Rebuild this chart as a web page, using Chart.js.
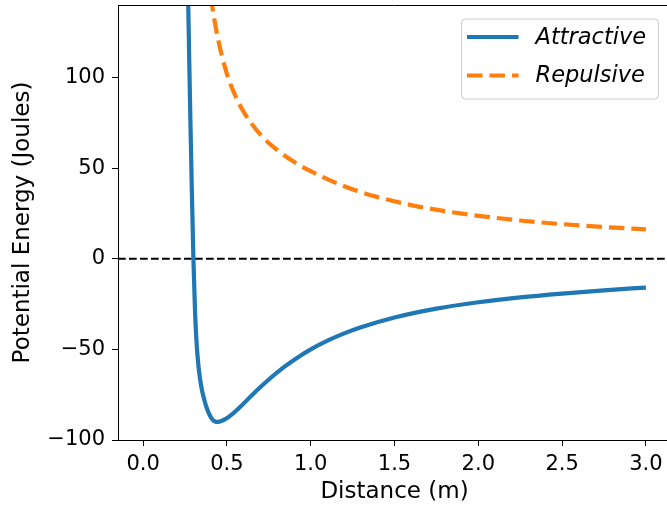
<!DOCTYPE html>
<html>
<head>
<meta charset="utf-8">
<script src="https://cdn.jsdelivr.net/npm/chart.js@4"></script>
<style>
    html, body { margin: 0; padding: 0; background: #fff; overflow: hidden; }
    #wrap { width: 672px; height: 507px; }
</style>
</head>
<body>
<div id="wrap"><canvas id="energyChart" width="672" height="507"></canvas></div>
<script>
// values
const attrDistance = [0.265, 0.27, 0.275, 0.28, 0.29, 0.30, 0.31, 0.32, 0.33, 0.34, 0.35, 0.36, 0.38, 0.40, 0.415, 0.43, 0.44,
    0.455, 0.47, 0.49, 0.51, 0.53, 0.55, 0.58, 0.62, 0.66, 0.70, 0.76, 0.84, 0.92, 1.00, 1.10, 1.20, 1.30, 1.50,
    1.75, 2.00, 2.25, 2.50, 2.75, 3.00];
const attractive = [165, 136, 110, 86, 40, 0, -30, -48, -59, -66.5, -72, -76, -82.5, -86.8, -88.9, -89.8, -90,
    -89.85, -89.4, -88.5, -87.3, -85.9, -84.3, -81.7, -78, -74.3, -70.8, -65.8, -59.8, -54.6, -50, -45.2, -41.2, -37.8, -32.4,
    -27.5, -24, -21.3, -19.2, -17.4, -15.9];

const repDistance = [0.405, 0.41, 0.45, 0.50, 0.55, 0.60, 0.70, 0.80, 0.90, 1.00, 1.20, 1.40, 1.60, 1.80,
    2.00, 2.25, 2.50, 2.75, 3.00];
const repulsive = [145, 141, 120, 102, 90, 81, 68.5, 60, 53.5, 48.3, 40, 34, 29.6, 26.3,
    23.7, 21.1, 19.1, 17.5, 16.2];

const zeroLevel = 0;
const xLimits = [-0.15, 3.15];
const yLimits = [-100, 140];
const xTickStep = 0.5;
const yTickStep = 50;

const toPoints = (xs, ys) => xs.map((x, i) => ({ x: x, y: ys[i] }));

// top/right spines, like matplotlib
const frame = {
    id: "frame",
    afterDatasetsDraw(chart) {
        const { ctx, chartArea: a } = chart;
        ctx.save();
        ctx.strokeStyle = "#000";
        ctx.lineWidth = 1;
        ctx.beginPath();
        ctx.moveTo(a.left, a.top + 0.5);
        ctx.lineTo(a.right, a.top + 0.5);
        ctx.moveTo(a.right - 0.5, a.top);
        ctx.lineTo(a.right - 0.5, a.bottom);
        ctx.stroke();
        ctx.restore();
    }
};

// legend box drawn by hand to get line samples and the rounded frame
const mplLegend = {
    id: "mplLegend",
    afterDraw(chart) {
        const { ctx, chartArea: a } = chart;
        const items = chart.data.datasets.filter(d => d.label);
        const w = 197, h = 80;
        const left = a.right - 13 - w, top = a.top + 13.5;
        ctx.save();
        ctx.fillStyle = "rgba(255,255,255,0.8)";
        ctx.strokeStyle = "#cccccc";
        ctx.lineWidth = 1;
        ctx.beginPath();
        ctx.roundRect(left + 0.5, top + 0.5, w, h, 4);
        ctx.fill();
        ctx.stroke();
        items.forEach((d, i) => {
            const y = top + 18.5 + i * 38.5;
            ctx.strokeStyle = d.borderColor;
            ctx.lineWidth = d.borderWidth;
            ctx.setLineDash(d.borderDash || []);
            ctx.beginPath();
            ctx.moveTo(left + 6, y);
            ctx.lineTo(left + 57.5, y);
            ctx.stroke();
            ctx.setLineDash([]);
            ctx.fillStyle = "#000";
            ctx.font = "italic 22.5px 'DejaVu Sans'";
            ctx.textBaseline = "middle";
            ctx.fillText(d.label, left + 74.5, y + 1);
        });
        ctx.restore();
    }
};

const tickFont = { family: "'DejaVu Sans'", size: 21 };
const titleFont = { family: "'DejaVu Sans'", size: 23 };

new Chart(document.getElementById("energyChart"), {
    type: "line",
    data: {
        datasets: [
            {
                label: "Attractive",
                data: toPoints(attrDistance, attractive),
                borderColor: "#1f77b4",
                borderWidth: 4.2,
                cubicInterpolationMode: "monotone",
                pointRadius: 0,
                fill: false,
                clip: 0
            },
            {
                label: "Repulsive",
                data: toPoints(repDistance, repulsive),
                borderColor: "#ff7f0e",
                borderWidth: 4.2,
                borderDash: [15.5, 7],
                cubicInterpolationMode: "monotone",
                pointRadius: 0,
                fill: false,
                clip: 0
            },
            {
                label: "",
                data: [{ x: xLimits[0], y: zeroLevel }, { x: xLimits[1], y: zeroLevel }],
                borderColor: "#000",
                borderWidth: 2,
                borderDash: [7.7, 3.3],
                pointRadius: 0,
                fill: false,
                clip: 0
            }
        ]
    },
    options: {
        responsive: false,
        animation: false,
        layout: { padding: { top: 5, right: 1, bottom: 0, left: 0 } },
        plugins: { legend: { display: false }, tooltip: { enabled: false } },
        scales: {
            x: {
                type: "linear",
                min: xLimits[0],
                max: xLimits[1],
                afterFit: s => { s.height = 67; s.paddingLeft = 0; s.paddingRight = 0; },
                border: { color: "#000", width: 1 },
                grid: { drawOnChartArea: false, drawTicks: true, tickLength: 6, color: "#000" },
                ticks: {
                    stepSize: xTickStep,
                    includeBounds: false,
                    autoSkip: false,
                    maxRotation: 0,
                    color: "#000",
                    font: tickFont,
                    padding: 6,
                    callback: v => v.toFixed(1)
                },
                title: { display: true, text: "Distance (m)", color: "#000", font: titleFont, padding: { top: 0, bottom: 1 } }
            },
            y: {
                min: yLimits[0],
                max: yLimits[1],
                afterFit: s => { s.width = 118; s.paddingTop = 0; s.paddingBottom = 0; },
                border: { color: "#000", width: 1 },
                grid: { drawOnChartArea: false, drawTicks: true, tickLength: 6, color: "#000" },
                ticks: {
                    stepSize: yTickStep,
                    includeBounds: false,
                    color: "#000",
                    font: tickFont,
                    padding: 7,
                    callback: v => (v < 0 ? "\u2212" + Math.abs(v) : String(v))
                },
                title: { display: true, text: "Potential Energy (Joules)", color: "#000", font: titleFont, padding: { top: 9, bottom: 0 } }
            }
        }
    },
    plugins: [frame, mplLegend]
});
</script>
</body>
</html>
